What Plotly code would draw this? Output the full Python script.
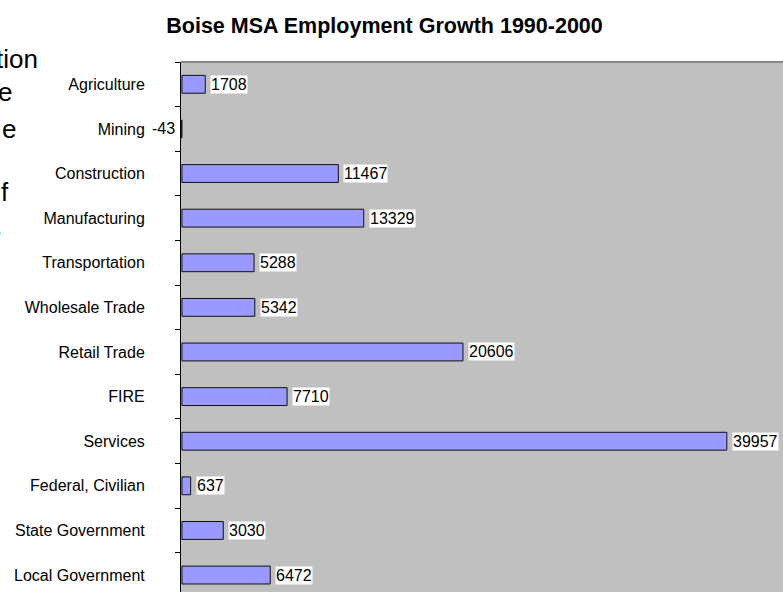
import plotly.graph_objects as go

categories = ["Agriculture", "Mining", "Construction", "Manufacturing", "Transportation",
              "Wholesale Trade", "Retail Trade", "FIRE", "Services", "Federal, Civilian",
              "State Government", "Local Government"]
values = [1708, -43, 11467, 13329, 5288, 5342, 20606, 7710, 39957, 637, 3030, 6472]
value_labels = [str(v) for v in values]

# clipped slide text fragments at the left edge
side_fragments = ["tion", "e", "e", "f", "s"]

W, H = 783, 592
L, T = 181, 62
FONT = "Arial, Liberation Sans, sans-serif"

fig = go.Figure()
fig.add_trace(go.Bar(
    x=values, y=categories, orientation="h", width=0.4,
    marker=dict(color="#9999FF", line=dict(color="#111111", width=1)),
    hoverinfo="skip",
))

annotations = []
for c, v, lab in zip(categories, values, value_labels):
    annotations.append(dict(
        x=v, y=c, xref="x", yref="y", text=lab, showarrow=False,
        xanchor="left" if v >= 0 else "right", xshift=5 if v >= 0 else -5,
        yanchor="middle", bgcolor="white", borderpad=0,
        font=dict(family=FONT, size=16, color="black"),
    ))

# fragments: (right edge px, center y px)
frag_pos = [(39, 59), (13, 92), (17, 129), (10, 192), (2, 228)]
for txt, (rx, cy) in zip(side_fragments, frag_pos):
    annotations.append(dict(
        x=0, y=1, xref="paper", yref="paper", text=txt, showarrow=False,
        xanchor="right", yanchor="middle", xshift=rx - L, yshift=-(cy - T),
        font=dict(family=FONT, size=26, color="black"), borderpad=0,
    ))

fig.update_layout(
    width=W, height=H,
    margin=dict(l=L, r=0, t=T, b=0, pad=0),
    paper_bgcolor="white", plot_bgcolor="#C0C0C0",
    showlegend=False,
    title=dict(text="<b>Boise MSA Employment Growth 1990-2000</b>",
               x=384.5 / W, xref="container", xanchor="center",
               y=1 - 25 / H, yref="container", yanchor="middle",
               font=dict(family=FONT, size=21.5, color="black")),
    annotations=annotations,
    shapes=[dict(type="line", xref="paper", yref="paper", x0=0, x1=1, y0=1, y1=1,
                 line=dict(color="#888888", width=2))],
)
fig.update_xaxes(range=[-70, 44075], visible=False, showgrid=False, zeroline=False)
fig.update_yaxes(
    type="category", range=[11.38, -0.5], showgrid=False, zeroline=False,
    showline=True, linecolor="black", linewidth=1,
    ticks="outside", ticklen=5, tickcolor="black", tickson="boundaries",
    ticklabelstandoff=32,
    tickfont=dict(family=FONT, size=16, color="black"),
)

fig.write_html(
    "out.html",
    config={"displayModeBar": False},
    post_script="document.body.style.margin='0';document.body.style.overflow='hidden';",
)
